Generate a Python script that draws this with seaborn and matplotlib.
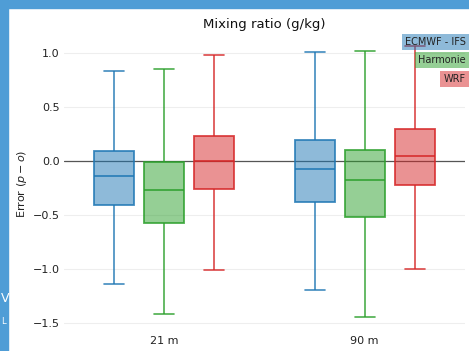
import numpy as np
import pandas as pd
import matplotlib
matplotlib.use("Agg")
import matplotlib.pyplot as plt
from matplotlib.patches import Rectangle
import seaborn as sns

# Five-number summaries of mixing-ratio error (g/kg):
# [lower whisker, Q1, median, Q3, upper whisker]
heights = ["21 m", "90 m"]
models = ["ECMWF - IFS", "Harmonie", "WRF"]
ecmwf_21 = [-1.14, -0.405, -0.14, 0.095, 0.836]
harmonie_21 = [-1.42, -0.57, -0.265, -0.01, 0.85]
wrf_21 = [-1.01, -0.26, 0.0, 0.23, 0.98]
ecmwf_90 = [-1.19, -0.375, -0.075, 0.19, 1.01]
harmonie_90 = [-1.445, -0.52, -0.18, 0.10, 1.02]
wrf_90 = [-1.00, -0.225, 0.045, 0.295, 1.065]

summaries = {
    ("21 m", "ECMWF - IFS"): ecmwf_21,
    ("21 m", "Harmonie"): harmonie_21,
    ("21 m", "WRF"): wrf_21,
    ("90 m", "ECMWF - IFS"): ecmwf_90,
    ("90 m", "Harmonie"): harmonie_90,
    ("90 m", "WRF"): wrf_90,
}
rows = []
for (h, m), vals in summaries.items():
    for v in vals:
        rows.append({"height": h, "model": m, "error": v})
df = pd.DataFrame(rows)

colors = {"ECMWF - IFS": "#1f77b4", "Harmonie": "#2ca02c", "WRF": "#d62728"}

sns.set_style("whitegrid", {"grid.color": "#eeeeee", "axes.edgecolor": "white"})
plt.rcParams["font.family"] = ["DejaVu Sans"]

fig = plt.figure(figsize=(4.69, 3.51), dpi=100)
ax = fig.add_axes([64 / 469, 1 - 332 / 351, (465 - 64) / 469, (332 - 35) / 351])

sns.boxplot(data=df, x="height", y="error", hue="model", order=heights,
            hue_order=models, palette=colors, width=0.75, gap=0.2,
            whis=(0, 100), showfliers=False, legend=False, ax=ax,
            linewidth=1.3)

# colour every box element in its model colour, with a translucent fill
for cont, m in zip(ax.containers, models):
    c = colors[m]
    for b in cont.boxes:
        b.set_facecolor(matplotlib.colors.to_rgba(c, 0.5))
        b.set_edgecolor(matplotlib.colors.to_rgba(c, 0.85))
        b.set_linewidth(1.3)
    for ln in list(cont.whiskers) + list(cont.caps):
        ln.set_color(c)
        ln.set_alpha(0.85)
        ln.set_linewidth(1.2)
    for ln in cont.medians:
        ln.set_color(c)
        ln.set_alpha(0.85)
        ln.set_linewidth(1.3)

ax.axhline(0, color="#555555", lw=0.9, zorder=1.5)
ax.set_xlim(-0.5, 1.5)
ax.set_ylim(-(332 - 161) / 108, (161 - 35) / 108)
ax.set_yticks([-1.5, -1.0, -0.5, 0.0, 0.5, 1.0])
ax.set_yticklabels(["\u22121.5", "\u22121.0", "\u22120.5", "0.0", "0.5", "1.0"])
ax.tick_params(axis="both", labelsize=8, colors="#222222", length=0, pad=3)
ax.set_xlabel("")
ax.set_ylabel(r"Error ($p-o$)", fontsize=8, color="#222222", labelpad=3)
ax.grid(axis="x", visible=False)
for s in ax.spines.values():
    s.set_visible(False)
ax.set_title("Mixing ratio (g/kg)", fontsize=9.5, color="#111111", pad=5)

# model labels stacked at the top right, each on its colour
label_y = [42, 60, 79]
for m, yy in zip(models, label_y):
    fig.text(466 / 469, 1 - yy / 351, m, ha="right", va="center", fontsize=7,
             color="#222222",
             bbox=dict(boxstyle="square,pad=0.35", fc=matplotlib.colors.to_rgba(colors[m], 0.5),
                       ec="none"))

# page frame
border = "#4f9dd6"
fig.patches.append(Rectangle((0, 0), 8 / 469, 1, transform=fig.transFigure,
                             color=border, zorder=10))
fig.patches.append(Rectangle((0, 1 - 8 / 351), 1, 8 / 351, transform=fig.transFigure,
                             color=border, zorder=10))
fig.text(0.5 / 469, 1 - 299 / 351, "V", color="white", fontsize=9, va="center",
         ha="left", zorder=11)
fig.text(1 / 469, 1 - 322 / 351, "L", color="white", fontsize=6, va="center",
         ha="left", zorder=11)

fig.savefig("out.png", dpi=100)
